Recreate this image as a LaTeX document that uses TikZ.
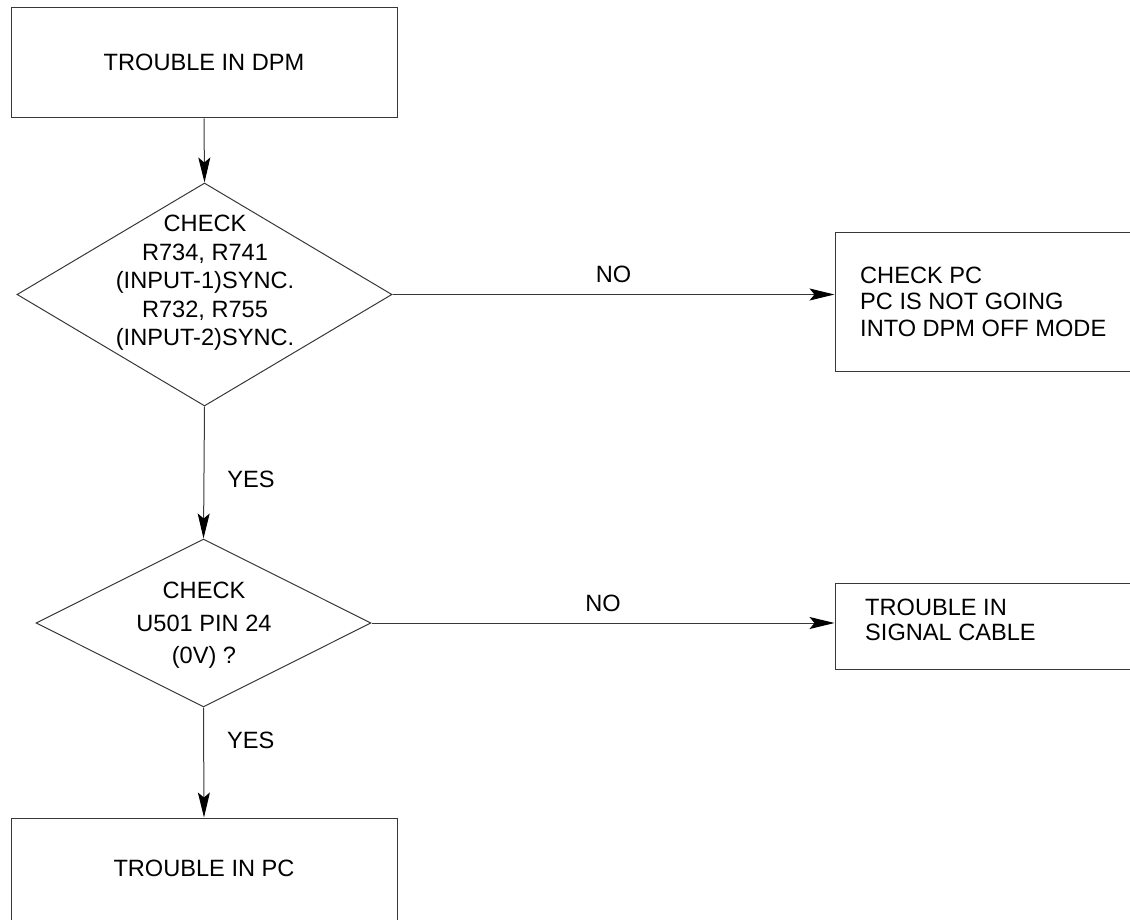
\documentclass[tikz,border=0pt]{standalone}
\usepackage{fontspec}
\setmainfont{Liberation Sans}
\usetikzlibrary{shapes.geometric,arrows.meta}
\begin{document}
\begin{tikzpicture}[x=1pt,y=1pt,
  line/.style={draw=black!78,line width=1pt},
  boxnode/.style={line,rectangle,inner sep=0pt},
  decision/.style={line,diamond,inner sep=0pt},
  lbl/.style={font=\fontsize{23.6}{28}\selectfont,inner sep=0pt,text=black},
  arr/.style={line,-{Stealth[length=25pt,width=12pt,inset=5pt,color=black]}}
]
\useasboundingbox (0,0) rectangle (1130,-920);
% boxes
\node[boxnode,minimum width=386pt,minimum height=110pt] (start) at (204,-63) {};
\node[lbl] at (204,-62) {TROUBLE IN DPM};
\node[decision,minimum width=375pt,minimum height=223pt] (d1) at (204.5,-294.5) {};
\node[lbl,align=center,font=\fontsize{23.6}{28.5}\selectfont] at (205,-283) {CHECK\\R734, R741\\(INPUT-1)SYNC.\\R732, R755\\(INPUT-2)SYNC.};
\node[boxnode,minimum width=320pt,minimum height=138pt] (r1) at (995,-302) {};
\node[lbl,align=left,anchor=west,font=\fontsize{23.6}{26.5}\selectfont] at (860,-301.5) {CHECK PC\\PC IS NOT GOING\\INTO DPM OFF MODE};
\node[decision,minimum width=335pt,minimum height=168pt] (d2) at (203.5,-623) {};
\node[lbl,align=center,font=\fontsize{23.6}{32.5}\selectfont] at (204,-625.5) {CHECK\\U501 PIN 24\\(0V) ?};
\node[boxnode,minimum width=320pt,minimum height=86pt] (r2) at (995,-626) {};
\node[lbl,align=left,anchor=west,font=\fontsize{23.6}{25}\selectfont] at (865,-619.5) {TROUBLE IN\\SIGNAL CABLE};
\node[boxnode,minimum width=386pt,minimum height=130pt] (end) at (204,-883) {};
\node[lbl] at (204,-868) {TROUBLE IN PC};
% connectors
\draw[arr] (start.south) -- (d1.north);
\draw[arr] (d1.east) -- (d1.east -| r1.west) node[lbl,pos=0.5,above=11pt] {NO};
\draw[arr] (d1.south) -- (d2.north) node[lbl,pos=0.55,right=23pt] {YES};
\draw[arr] (d2.east) -- (d2.east -| r2.west) node[lbl,pos=0.5,above=11pt] {NO};
\draw[arr] (d2.south) -- (end.north) node[lbl,pos=0.3,right=23pt] {YES};
\end{tikzpicture}
\end{document}
